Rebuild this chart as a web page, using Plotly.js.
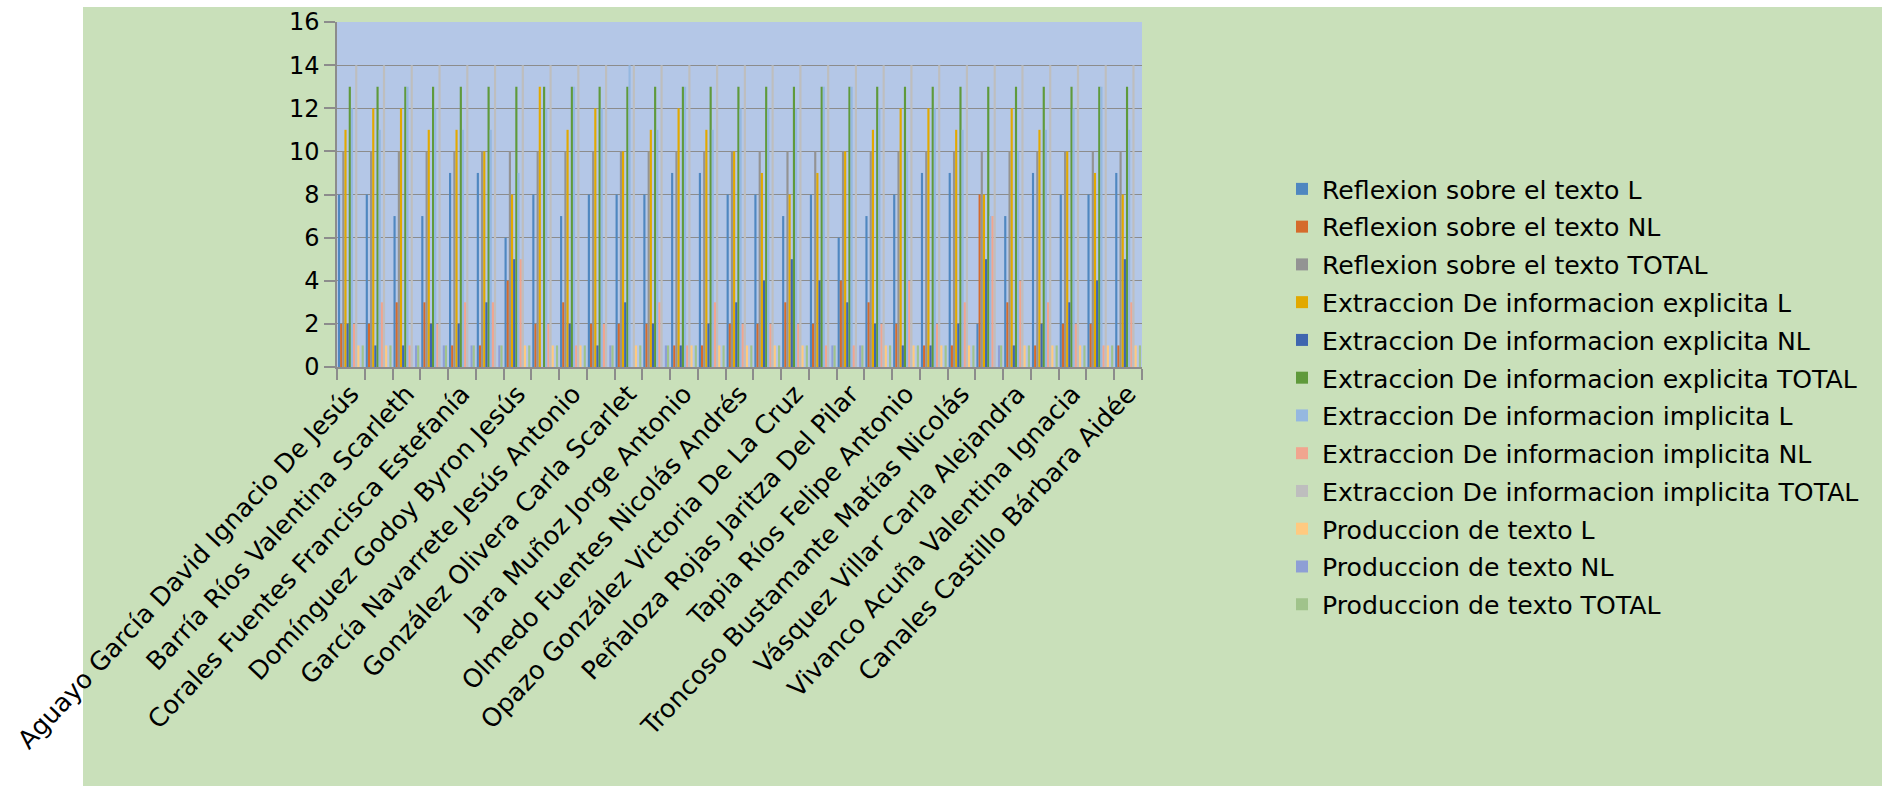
<!DOCTYPE html>
<html>
<head>
<meta charset="utf-8">
<script src="https://cdn.plot.ly/plotly-3.0.1.min.js"></script>
<style>
  html, body { margin: 0; padding: 0; background: #ffffff; }
  #bg { position: absolute; left: 83px; top: 7px; width: 1799px; height: 779px; background: #C9E0BA; }
  #chart { position: absolute; left: 0; top: 0; width: 1882px; height: 786px; }
</style>
</head>
<body>
<div id="bg"></div>
<div id="chart"></div>
<script>
// Students (category positions 1..29); only every other one is labelled in the original
const students = [1,2,3,4,5,6,7,8,9,10,11,12,13,14,15,16,17,18,19,20,21,22,23,24,25,26,27,28,29];
const labelledStudents = [1,3,5,7,9,11,13,15,17,19,21,23,25,27,29];
const tickLabels = [
  "Aguayo García David Ignacio De Jesús",
  "Barría Ríos Valentina Scarleth",
  "Corales Fuentes Francisca Estefanía",
  "Domínguez Godoy Byron Jesús",
  "García Navarrete Jesús Antonio",
  "González Olivera Carla Scarlet",
  "Jara Muñoz Jorge Antonio",
  "Olmedo Fuentes Nicolás Andrés",
  "Opazo González Victoria De La Cruz",
  "Peñaloza Rojas Jaritza Del Pilar",
  "Tapia Ríos Felipe Antonio",
  "Troncoso Bustamante Matías Nicolás",
  "Vásquez Villar Carla Alejandra",
  "Vivanco Acuña Valentina Ignacia",
  "Canales Castillo Bárbara Aidée"
];

const seriesNames = [
  "Reflexion sobre el texto L",
  "Reflexion sobre el texto NL",
  "Reflexion sobre el texto TOTAL",
  "Extraccion De informacion explicita L",
  "Extraccion De informacion explicita NL",
  "Extraccion De informacion explicita TOTAL",
  "Extraccion De informacion implicita L",
  "Extraccion De informacion implicita NL",
  "Extraccion De informacion implicita TOTAL",
  "Produccion de texto L",
  "Produccion de texto NL",
  "Produccion de texto TOTAL"
];

const reflexionL      = [8,8,7,7,9,9,6,8,7,8,8,8,9,9,8,8,7,8,6,7,8,9,9,2,7,9,8,8,9];
const reflexionNL     = [2,2,3,3,1,1,4,2,3,2,2,2,1,1,2,2,3,2,4,3,2,1,1,8,3,1,2,2,1];
const reflexionTOTAL  = [10,10,10,10,10,10,10,10,10,10,10,10,10,10,10,10,10,10,10,10,10,10,10,10,10,10,10,10,10];
const explicitaL      = [11,12,12,11,11,10,8,13,11,12,10,11,12,11,10,9,8,9,10,11,12,12,11,8,12,11,10,9,8];
const explicitaNL     = [2,1,1,2,2,3,5,0,2,1,3,2,1,2,3,4,5,4,3,2,1,1,2,5,1,2,3,4,5];
const explicitaTOTAL  = [13,13,13,13,13,13,13,13,13,13,13,13,13,13,13,13,13,13,13,13,13,13,13,13,13,13,13,13,13];
const implicitaL      = [12,11,13,12,11,11,9,12,13,12,14,11,13,11,12,12,12,13,13,12,10,12,11,7,10,11,12,13,11];
const implicitaNL     = [2,3,1,2,3,3,5,2,1,2,0,3,1,3,2,2,2,1,1,2,4,2,3,7,4,3,2,1,3];
const implicitaTOTAL  = [14,14,14,14,14,14,14,14,14,14,14,14,14,14,14,14,14,14,14,14,14,14,14,14,14,14,14,14,14];
const produccionL     = [1,1,0,0,0,0,1,1,1,0,1,0,1,1,1,1,1,0,0,1,1,1,1,0,1,1,1,1,1];
const produccionNL    = [0,0,1,1,1,1,0,0,0,1,0,1,0,0,0,0,0,1,1,0,0,0,0,1,0,0,0,0,0];
const produccionTOTAL = [1,1,1,1,1,1,1,1,1,1,1,1,1,1,1,1,1,1,1,1,1,1,1,1,1,1,1,1,1];

const seriesValues = [reflexionL, reflexionNL, reflexionTOTAL,
  explicitaL, explicitaNL, explicitaTOTAL,
  implicitaL, implicitaNL, implicitaTOTAL,
  produccionL, produccionNL, produccionTOTAL];

const colors = ["#4F87C0","#D56B2C","#939393","#E2A900","#3F66AF","#5F9A3B",
                "#95B8E0","#F1A58F","#BEBEBE","#FFCA80","#8E9FD5","#A0C38B"];

const FONT = "DejaVu Sans, sans-serif";
const axisGray = "#8C8C8C";

const traces = seriesNames.map((name, i) => ({
  type: "bar",
  name: name,
  x: students,
  y: seriesValues[i],
  marker: { color: colors[i], line: { width: 0 } },
  legendgroup: "g" + i,
  hoverinfo: "x+y+name"
}));

// plot area: x 337..1142, y 22..367 (px); paper spans y 22..786
const paperH = 786 - 22;
const layout = {
  width: 1882,
  height: 786,
  paper_bgcolor: "rgba(0,0,0,0)",
  plot_bgcolor: "rgba(0,0,0,0)",
  margin: { l: 337, r: 740, t: 22, b: 0, pad: 0 },
  barmode: "group",
  bargap: 0.07,
  bargroupgap: 0,
  font: { family: FONT, color: "#000000", size: 24 },
  showlegend: true,
  legend: {
    xref: "container", yref: "paper",
    x: 1282 / 1882, xanchor: "left",
    y: (786 - 166) / paperH, yanchor: "top",
    bgcolor: "rgba(0,0,0,0)",
    font: { family: FONT, size: 25.2, color: "#000000" },
    tracegroupgap: 2,
    traceorder: "grouped"
  },
  shapes: [{
    type: "rect", xref: "x domain", yref: "y domain",
    x0: 0, x1: 1, y0: 0, y1: 1,
    fillcolor: "#B4C7E7", line: { width: 0 }, layer: "below"
  }],
  xaxis: {
    range: [0.5, 29.5],
    anchor: "y",
    tickmode: "array",
    tickvals: labelledStudents,
    ticktext: tickLabels,
    tickangle: -47,
    ticks: "",
    ticklen: 0,
    ticklabeloverflow: "allow",
    tickfont: { family: FONT, size: 25.5, color: "#000000" },
    showgrid: false,
    zeroline: false,
    showline: true,
    linecolor: axisGray,
    linewidth: 1.5,
    minor: {
      tickmode: "linear",
      tick0: 0.5,
      dtick: 1,
      ticks: "outside",
      ticklen: 11,
      tickwidth: 1.5,
      tickcolor: axisGray,
      showgrid: false
    }
  },
  yaxis: {
    domain: [(786 - 367) / paperH, 1],
    range: [0, 16],
    dtick: 2,
    tick0: 0,
    ticks: "outside",
    ticklen: 11,
    tickwidth: 1.5,
    tickcolor: axisGray,
    tickfont: { family: FONT, size: 24, color: "#000000" },
    showgrid: true,
    gridcolor: axisGray,
    gridwidth: 1.3,
    zeroline: false,
    showline: true,
    linecolor: axisGray,
    linewidth: 1.5
  }
};

Plotly.newPlot("chart", traces, layout, { displayModeBar: false });
</script>
</body>
</html>
